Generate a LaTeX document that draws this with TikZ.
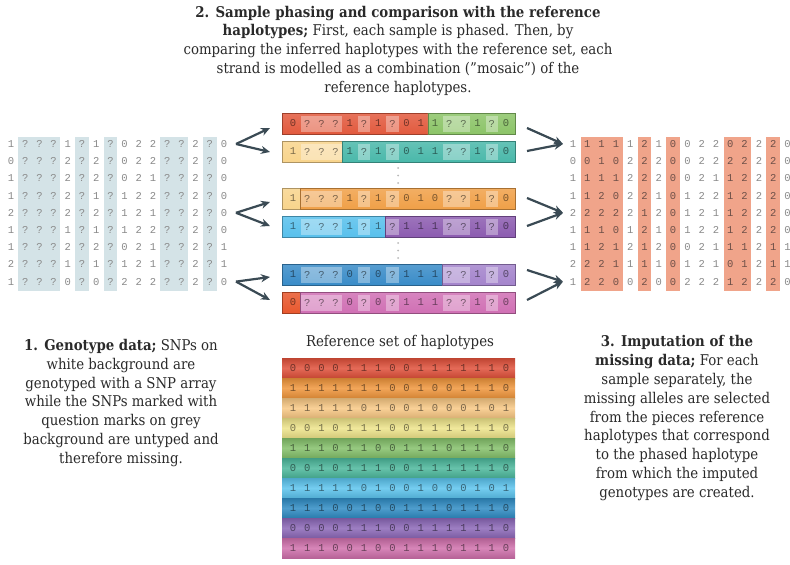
\documentclass[tikz,border=0pt]{standalone}
\usepackage{fontspec}
\setmainfont{DejaVu Serif Condensed}
\newfontfamily\digitfont{Liberation Mono}
\usetikzlibrary{arrows.meta}
\definecolor{txtc}{HTML}{2A2A2A}
\definecolor{digc}{HTML}{8A8A8A}
\definecolor{bandtxt}{HTML}{6E5048}
\definecolor{gband}{HTML}{D4E3E7}
\definecolor{oband}{HTML}{F0A48A}
\definecolor{arrc}{HTML}{3A4A54}
\definecolor{dotc}{HTML}{B8B8B8}
% bar colours
\definecolor{hRed}{HTML}{E25A3E}
\definecolor{hGreen}{HTML}{8CC468}
\definecolor{hYellow}{HTML}{F8D48C}
\definecolor{hTeal}{HTML}{4AB8AA}
\definecolor{hOrange}{HTML}{F0A048}
\definecolor{hLBlue}{HTML}{58C0EC}
\definecolor{hPurple}{HTML}{8C5CB0}
\definecolor{hBlue}{HTML}{3A8CC8}
\definecolor{hLav}{HTML}{A484CC}
\definecolor{hRedOr}{HTML}{E8582E}
\definecolor{hPink}{HTML}{D070B4}
% reference colours
\definecolor{rA}{HTML}{E0503A}
\definecolor{rB}{HTML}{F0963C}
\definecolor{rC}{HTML}{F8C884}
\definecolor{rD}{HTML}{EEE48A}
\definecolor{rE}{HTML}{84C06A}
\definecolor{rF}{HTML}{4CB89C}
\definecolor{rG}{HTML}{5CC4EE}
\definecolor{rH}{HTML}{2F8CC4}
\definecolor{rI}{HTML}{8C68B8}
\definecolor{rJ}{HTML}{D070AC}
\tikzset{
  dig/.style={font=\digitfont\fontsize{10.5}{12}\selectfont, text=digc, inner sep=0pt},
  bardig/.style={font=\digitfont\fontsize{10.5}{12}\selectfont, text=black, text opacity=0.5, inner sep=0pt},
  barseg/.style={draw=#1!70!black, line width=0.6pt, top color=#1!85!white, bottom color=#1},
  refseg/.style={top color=#1!85!black, bottom color=#1!88!black, middle color=#1!85!white},
  txt/.style={font=\fontsize{14.8}{18.8}\selectfont, text=txtc, align=center, inner sep=0pt},
  arr/.style={draw=arrc, line width=2.2pt, -{Stealth[length=9pt,width=8pt]}},
  vdot/.style={fill=dotc, circle, inner sep=0pt, minimum size=2pt}
}
\newcommand\hapbar[6]{%
  \pgfmathsetmacro\splitx{293+(#5-0.5)*14.2}
  \path[barseg={#3}] (282,#2) rectangle (\splitx,#2+21);
  \path[barseg={#4}] (\splitx,#2) rectangle (515,#2+21);
  \foreach \a/\b in {2/4,6/6,8/8,12/13,15/15}
    \fill[white,opacity=.35] ({293+(\a-1.5)*14.2+1},#2+2.5) rectangle ({293+(\b-0.5)*14.2-1},#2+18.5);
  \foreach \v [count=\c] in {#6}
    \node[bardig] (#1-\c) at ({293+14.2*(\c-1)},#2+10.5) {\v};
  \coordinate (#1w) at (270,#2+10.5);
  \coordinate (#1e) at (527,#2+10.5);
}
\newcommand\refrow[3]{%
  \path[refseg={#2}] (282,{358+20*(#1-1)}) rectangle (515,{358+20*#1});
  \foreach \v [count=\c] in {#3}
    \node[bardig] (ref-#1-\c) at ({293+14.2*(\c-1)},{368+20*(#1-1)}) {\v};
}
\begin{document}
\begin{tikzpicture}[x=1pt,y=-1pt]
\useasboundingbox (0,0) rectangle (790,565);
\fill[white] (0,0) rectangle (790,565);

% ---------- left genotype matrix ----------
\foreach \a/\b in {2/4,6/6,8/8,12/13,15/15}
  \fill[gband] ({11+14.2*(\a-1)-6.8},136.5) rectangle ({11+14.2*(\b-1)+6.8},290.5);
\foreach \row [count=\r] in {
 {1,?,?,?,1,?,1,?,0,2,2,?,?,2,?,0},
 {0,?,?,?,2,?,2,?,0,2,2,?,?,2,?,0},
 {1,?,?,?,2,?,2,?,0,2,1,?,?,2,?,0},
 {1,?,?,?,2,?,1,?,1,2,2,?,?,2,?,0},
 {2,?,?,?,2,?,2,?,1,2,1,?,?,2,?,0},
 {1,?,?,?,1,?,1,?,1,2,2,?,?,2,?,0},
 {1,?,?,?,2,?,2,?,0,2,1,?,?,2,?,1},
 {2,?,?,?,1,?,1,?,1,2,1,?,?,2,?,1},
 {1,?,?,?,0,?,0,?,2,2,2,?,?,2,?,0}}{
  \foreach \v [count=\c] in \row
    \node[dig] (L-\r-\c) at ({11+14.2*(\c-1)},{144+17.2*(\r-1)}) {\v};
}

% ---------- right imputed matrix ----------
\foreach \a/\b in {2/4,6/6,8/8,12/13,15/15}
  \fill[oband] ({573+14.3*(\a-1)-6.8},136.5) rectangle ({573+14.3*(\b-1)+6.8},290.5);
\foreach \row [count=\r] in {
 {1,1,1,1,1,2,1,0,0,2,2,0,2,2,2,0},
 {0,0,1,0,2,2,2,0,0,2,2,2,2,2,2,0},
 {1,1,1,1,2,2,2,0,0,2,1,1,2,2,2,0},
 {1,1,2,0,2,2,1,0,1,2,2,1,2,2,2,0},
 {2,2,2,2,2,1,2,0,1,2,1,1,2,2,2,0},
 {1,1,1,0,1,2,1,0,1,2,2,1,2,2,2,0},
 {1,1,2,1,2,1,2,0,0,2,1,1,1,2,1,1},
 {2,2,2,1,1,1,1,0,1,2,1,0,1,2,1,1},
 {1,2,2,0,0,2,0,0,2,2,2,1,2,2,2,0}}{
  \foreach \v [count=\c] in \row {
    \pgfmathtruncatemacro\inb{(\c>=2)*(\c<=4)+(\c==6)+(\c==8)+(\c>=12)*(\c<=13)+(\c==15)}
    \ifnum\inb>0 \def\dc{bandtxt}\else\def\dc{digc}\fi
    \node[dig,text=\dc] (R-\r-\c) at ({573+14.3*(\c-1)},{144+17.2*(\r-1)}) {\v};
  }
}

% ---------- phased haplotype bars ----------
\hapbar{h1}{113}{hRed}{hGreen}{10}{0,?,?,?,1,?,1,?,0,1,1,?,?,1,?,0}
\hapbar{h2}{141}{hYellow}{hTeal}{4}{1,?,?,?,1,?,1,?,0,1,1,?,?,1,?,0}
\hapbar{h3}{188}{hYellow}{hOrange}{1}{1,?,?,?,1,?,1,?,0,1,0,?,?,1,?,0}
\hapbar{h4}{216}{hLBlue}{hPurple}{7}{1,?,?,?,1,?,1,?,1,1,1,?,?,1,?,0}
\hapbar{h5}{264}{hBlue}{hLav}{11}{1,?,?,?,0,?,0,?,1,1,1,?,?,1,?,0}
\hapbar{h6}{292}{hRedOr}{hPink}{1}{0,?,?,?,0,?,0,?,1,1,1,?,?,1,?,0}

\foreach \y [count=\i] in {168,175.5,183,243,250.5,258}
  \node[vdot] (dot\i) at (398,\y) {};

% ---------- arrows ----------
\coordinate (ls1) at (236,144);
\coordinate (ls2) at (236,212.8);
\coordinate (ls3) at (236,281.6);
\coordinate (le1a) at (270,128);
\coordinate (le1b) at (270,152);
\coordinate (le2a) at (270,202);
\coordinate (le2b) at (270,226);
\coordinate (le3a) at (270,277);
\coordinate (le3b) at (270,300);
\draw[arr] (ls1) -- (le1a);
\draw[arr] (ls1) -- (le1b);
\draw[arr] (ls2) -- (le2a);
\draw[arr] (ls2) -- (le2b);
\draw[arr] (ls3) -- (le3a);
\draw[arr] (ls3) -- (le3b);

\coordinate (rs1a) at (527,128);
\coordinate (rs1b) at (527,151);
\coordinate (rs2a) at (527,198);
\coordinate (rs2b) at (527,226);
\coordinate (rs3a) at (527,270);
\coordinate (rs3b) at (527,300);
\coordinate (rt1) at (563,144);
\coordinate (rt2) at (563,212.8);
\coordinate (rt3) at (563,281.6);
\draw[arr] (rs1a) -- (rt1);
\draw[arr] (rs1b) -- (rt1);
\draw[arr] (rs2a) -- (rt2);
\draw[arr] (rs2b) -- (rt2);
\draw[arr] (rs3a) -- (rt3);
\draw[arr] (rs3b) -- (rt3);

% ---------- reference set ----------
\node[txt, anchor=base] (reftitle) at (400,346.5) {Reference set of haplotypes};
\refrow{1}{rA}{0,0,0,0,1,1,1,0,0,1,1,1,1,1,1,0}
\refrow{2}{rB}{1,1,1,1,1,1,1,0,0,1,0,0,1,1,1,0}
\refrow{3}{rC}{1,1,1,1,1,0,1,0,0,1,0,0,0,1,0,1}
\refrow{4}{rD}{0,0,1,0,1,1,1,0,0,1,1,1,1,1,1,0}
\refrow{5}{rE}{1,1,1,0,1,1,0,0,1,1,1,0,1,1,1,0}
\refrow{6}{rF}{0,0,1,0,1,1,1,0,0,1,1,1,1,1,1,0}
\refrow{7}{rG}{1,1,1,1,1,0,1,0,0,1,0,0,0,1,0,1}
\refrow{8}{rH}{1,1,1,0,0,1,0,0,1,1,1,0,1,1,1,0}
\refrow{9}{rI}{0,0,0,0,1,1,1,0,0,1,1,1,1,1,1,0}
\refrow{10}{rJ}{1,1,1,0,0,1,0,0,1,1,1,0,1,1,1,0}

% ---------- texts ----------
\node[txt, anchor=north] (title) at (398,5.6) {%
\textbf{2. Sample phasing and comparison with the reference}\\
\textbf{haplotypes;} First, each sample is phased. Then, by\\
comparing the inferred haplotypes with the reference set, each\\
strand is modelled as a combination (”mosaic”) of the\\
reference haplotypes.};

\node[txt, anchor=north] (gtext) at (121,339) {%
\textbf{1. Genotype data;} SNPs on\\
white background are\\
genotyped with a SNP array\\
while the SNPs marked with\\
question marks on grey\\
background are untyped and\\
therefore missing.};

\node[txt, anchor=north] (itext) at (677,335.5) {%
\textbf{3. Imputation of the}\\
\textbf{missing data;} For each\\
sample separately, the\\
missing alleles are selected\\
from the pieces reference\\
haplotypes that correspond\\
to the phased haplotype\\
from which the imputed\\
genotypes are created.};
\end{tikzpicture}
\end{document}
